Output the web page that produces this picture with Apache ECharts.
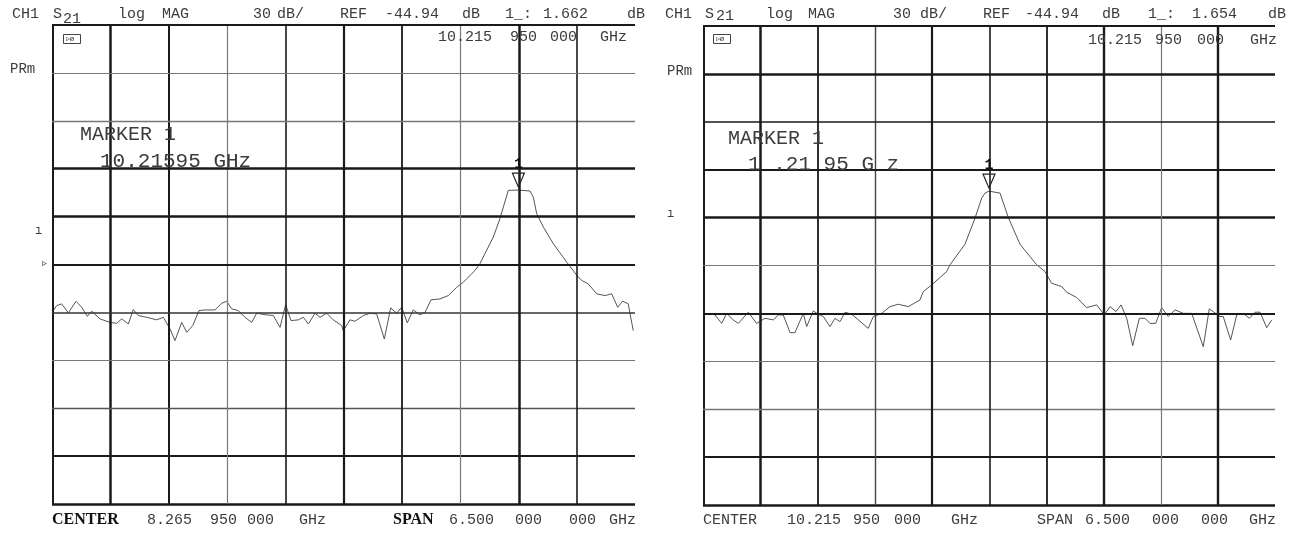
<!DOCTYPE html>
<html>
<head>
<meta charset="utf-8">
<script src="https://cdn.jsdelivr.net/npm/echarts@6/dist/echarts.min.js"></script>
<style>
html,body{margin:0;padding:0;background:#fff;}
#chart{width:1295px;height:533px;}
</style>
</head>
<body>
<div id="chart"></div>
<script>
// ---- instrument settings ----
const SPAN = 6.5;               // GHz
const LEFT_CENTER = 8.26595;    // GHz
const RIGHT_CENTER = 10.21595;  // GHz
const REF_LEVEL = -44.94;       // dB
const SCALE = 30;               // dB per division
const MARKER_FREQ = 10.21595;   // GHz
const leftMarkerDb = 1.662;
const rightMarkerDb = 1.654;

// ---- trace, left screen (GHz, dB) ----
const leftFreq = [5.019,5.068,5.124,5.198,5.284,5.347,5.410,5.459,5.551,5.663,5.737,5.793,5.867,5.922,5.978,6.072,6.183,6.257,6.332,6.387,6.462,6.518,6.585,6.655,6.722,6.833,6.908,6.964,7.019,7.093,7.168,7.242,7.298,7.410,7.483,7.558,7.621,7.681,7.762,7.818,7.874,7.948,8.004,8.079,8.152,8.246,8.264,8.338,8.394,8.487,8.561,8.636,8.721,8.792,8.859,8.915,8.977,9.044,9.119,9.175,9.241,9.342,9.434,9.528,9.602,9.639,9.732,9.788,9.936,10.011,10.103,10.216,10.345,10.382,10.420,10.494,10.605,10.755,10.884,10.925,10.995,11.089,11.181,11.256,11.323,11.379,11.441,11.468,11.497];
const leftDb = [-74.9,-70.7,-69.6,-75.2,-68.0,-71.7,-77.4,-74.2,-79.0,-81.2,-81.8,-79.0,-82.2,-73.2,-76.9,-78.0,-79.6,-78.0,-85.3,-92.6,-81.2,-87.4,-83.2,-73.8,-73.4,-73.4,-69.2,-68.0,-72.7,-73.8,-78.0,-81.2,-75.5,-76.5,-76.9,-84.3,-70.2,-80.1,-79.6,-78.0,-82.2,-75.5,-78.0,-75.5,-79.6,-83.2,-86.4,-79.6,-80.5,-76.9,-75.5,-75.9,-91.6,-72.1,-75.5,-71.7,-81.5,-73.4,-76.5,-74.9,-67.1,-66.5,-64.4,-59.2,-56.0,-53.9,-48.7,-44.3,-27.8,-16.1,1.5,1.662,1.1,-2.7,-13.1,-21.5,-31.9,-43.5,-52.9,-55.0,-57.1,-63.3,-64.4,-63.3,-71.7,-67.9,-69.6,-78.0,-86.4];

// ---- trace, right screen (GHz, dB) ----
const rightFreq = [6.977,7.045,7.102,7.178,7.235,7.310,7.367,7.481,7.576,7.670,7.765,7.822,7.878,7.955,8.011,8.106,8.144,8.219,8.276,8.333,8.409,8.466,8.523,8.580,8.656,8.731,8.844,8.901,8.997,9.091,9.185,9.299,9.432,9.469,9.565,9.735,9.773,9.943,10.057,10.133,10.170,10.216,10.341,10.435,10.568,10.758,10.852,10.928,11.004,11.042,11.099,11.213,11.326,11.440,11.526,11.591,11.659,11.716,11.781,11.849,11.924,11.989,12.045,12.110,12.178,12.253,12.329,12.424,12.519,12.651,12.719,12.841,12.878,12.962,13.031,13.106,13.174,13.239,13.296,13.372,13.429];
const rightDb = [-75.5,-74.9,-75.9,-81.2,-74.9,-79.0,-81.2,-74.2,-81.2,-78.0,-79.0,-75.9,-75.9,-87.0,-87.0,-74.9,-83.2,-73.4,-75.5,-76.9,-83.2,-78.0,-80.1,-74.2,-75.5,-79.0,-84.3,-76.9,-74.9,-70.7,-69.2,-70.7,-66.5,-61.3,-57.1,-48.7,-44.5,-31.6,-15.3,-2.7,0.4,1.654,0.4,-14.8,-31.6,-44.5,-48.7,-56.1,-57.5,-58.1,-61.7,-65.0,-71.3,-69.6,-75.9,-70.7,-73.8,-69.6,-78.0,-95.2,-78.0,-78.0,-81.2,-81.2,-71.3,-76.9,-72.7,-74.9,-74.9,-95.8,-72.1,-76.9,-76.9,-91.6,-75.9,-74.9,-78.0,-74.2,-74.2,-83.9,-79.0];

// ---- screen texts ----
const leftHeader  = [["CH1",12],["S",53],["log",118],["MAG",162],["30",253],["dB/",277],["REF",340],["-44.94",385],["dB",462],["1_:",505],["1.662",543],["dB",627]];
const rightHeader = [["CH1",665],["S",705],["log",766],["MAG",808],["30",893],["dB/",920],["REF",983],["-44.94",1025],["dB",1102],["1_:",1148],["1.654",1192],["dB",1268]];
const leftStim  = [["10.215",438],["950",510],["000",550],["GHz",600]];
const rightStim = [["10.215",1088],["950",1155],["000",1197],["GHz",1250]];
const leftFooter  = [["CENTER",52,true],["8.265",147],["950",210],["000",247],["GHz",299],["SPAN",393,true],["6.500",449],["000",515],["000",569],["GHz",609]];
const rightFooter = [["CENTER",703],["10.215",787],["950",853],["000",894],["GHz",951],["SPAN",1037],["6.500",1085],["000",1152],["000",1201],["GHz",1249]];

// ---- styles of the 11 graticule lines (scan look) ----
const INK = '#1a1a1a', GREY = '#777';
const leftV  = [[2,INK],[2.5,INK],[2,INK],[1.2,GREY],[1.6,INK],[2.2,INK],[1.8,INK],[1.2,GREY],[2.5,INK],[1.6,INK],[2.2,INK]];
const leftH  = [[2.2,INK],[1.2,GREY],[1.3,GREY],[2.5,INK],[2.5,INK],[1.8,INK],[1.6,'#333'],[1.2,GREY],[1.4,'#555'],[1.8,INK],[2.5,INK]];
const rightV = [[2,INK],[2.5,INK],[1.8,INK],[1.4,'#444'],[2.2,INK],[1.6,INK],[1.8,INK],[2.4,INK],[1.2,GREY],[2.4,INK],[2.5,INK]];
const rightH = [[2,INK],[2.5,INK],[1.6,INK],[1.8,INK],[2.5,INK],[1.2,GREY],[1.8,INK],[1.2,GREY],[1.3,GREY],[1.8,INK],[2.5,INK]];

const yMin = REF_LEVEL - 5 * SCALE, yMax = REF_LEVEL + 5 * SCALE;
const MONO = 'Liberation Mono';
const TXT = '#3c3c3c';

function pairs(fx, dy){ return fx.map((f,i)=>[f, dy[i]]); }

function gridLines(center, vStyle, hStyle){
  const xMin = center - SPAN/2, res = [];
  for (let k=0;k<=10;k++){
    res.push({xAxis: xMin + k*SPAN/10, lineStyle:{width:vStyle[k][0], color:vStyle[k][1], type:'solid'}});
    res.push({yAxis: yMin + k*SCALE, lineStyle:{width:hStyle[10-k][0], color:hStyle[10-k][1], type:'solid'}});
  }
  return res;
}

function axisPair(idx, center){
  return {
    x: {type:'value', gridIndex:idx, min:center-SPAN/2, max:center+SPAN/2, axisLine:{show:false}, axisTick:{show:false}, axisLabel:{show:false}, splitLine:{show:false}},
    y: {type:'value', gridIndex:idx, min:yMin, max:yMax, axisLine:{show:false}, axisTick:{show:false}, axisLabel:{show:false}, splitLine:{show:false}}
  };
}

const triPath = 'path://M0,0 L12,0 L6,14 Z';

function traceSeries(idx, data, mDb){
  return {
    type:'line', xAxisIndex:idx, yAxisIndex:idx, data:data, showSymbol:false, z:3,
    lineStyle:{color:'#555', width:1}, animation:false,
    markPoint:{
      silent:true, animation:false,
      data:[{coord:[MARKER_FREQ, mDb]}],
      symbol:triPath, symbolSize:[12,14], symbolOffset:[0,-10],
      itemStyle:{color:'rgba(255,255,255,0)', borderColor:'#222', borderWidth:1.2},
      label:{show:true, position:'top', distance:1, formatter:'1', color:'#111', fontFamily:MONO, fontSize:15, fontWeight:'bold'}
    }
  };
}

function gridSeries(idx, center, v, h){
  return {
    type:'line', xAxisIndex:idx, yAxisIndex:idx, data:[[center, yMin]], showSymbol:false, z:1,
    lineStyle:{opacity:0}, animation:false,
    markLine:{silent:true, symbol:['none','none'], animation:false, label:{show:false}, data:gridLines(center, v, h)}
  };
}

function txt(s, x, y, opt){
  opt = opt || {};
  return {type:'text', left:x, top:y - (opt.size||15)/2 - 1, z:50, silent:true,
    style:{text:s, fill:opt.color||TXT, fontFamily:opt.family||MONO, fontSize:opt.size||15, fontWeight:opt.weight||'normal'}};
}

function icon(x, y){
  return {type:'group', left:x, top:y, z:50, silent:true, children:[
    {type:'rect', shape:{x:0,y:0,width:17,height:9}, style:{fill:'none', stroke:'#444', lineWidth:1}},
    {type:'text', left:2, top:0, style:{text:'▹ø', fill:'#444', fontSize:8, fontFamily:MONO}}
  ]};
}

const graphics = [];
leftHeader.forEach(([s,x])=>graphics.push(txt(s,x,15)));
rightHeader.forEach(([s,x])=>graphics.push(txt(s,x,15)));
graphics.push(txt('21',63,20));
graphics.push(txt('21',716,17));
leftStim.forEach(([s,x])=>graphics.push(txt(s,x,38)));
rightStim.forEach(([s,x])=>graphics.push(txt(s,x,41)));
leftFooter.forEach(([s,x,b])=>graphics.push(b ? txt(s,x,521,{family:'Liberation Serif',weight:'bold',size:16,color:'#111'}) : txt(s,x,521)));
rightFooter.forEach(([s,x])=>graphics.push(txt(s,x,521)));
graphics.push(txt('PRm',10,70,{size:14}));
graphics.push(txt('PRm',667,72,{size:14}));
graphics.push(txt('MARKER 1',80,136,{size:20}));
graphics.push(txt('10.21595 GHz',100,162,{size:21}));
graphics.push(txt('MARKER 1',728,140,{size:20}));
graphics.push(txt('1 .21 95 G z',748,165,{size:21}));
graphics.push(txt('ı',35,232,{size:12}));
graphics.push(txt('ı',667,215,{size:12}));
graphics.push(txt('▹',42,264,{size:10}));
graphics.push(icon(61,32));
graphics.push(icon(711,32));

const L = axisPair(0, LEFT_CENTER), R = axisPair(1, RIGHT_CENTER);
const option = {
  backgroundColor:'#fff',
  animation:false,
  grid:[
    {left:52, top:25, width:583, height:479},
    {left:703, top:26, width:572, height:479}
  ],
  xAxis:[L.x, R.x],
  yAxis:[L.y, R.y],
  graphic:graphics,
  series:[
    gridSeries(0, LEFT_CENTER, leftV, leftH),
    gridSeries(1, RIGHT_CENTER, rightV, rightH),
    traceSeries(0, pairs(leftFreq, leftDb), leftMarkerDb),
    traceSeries(1, pairs(rightFreq, rightDb), rightMarkerDb)
  ]
};
const chart = echarts.init(document.getElementById('chart'), null, {renderer:'canvas'});
chart.setOption(option);
</script>
</body>
</html>
